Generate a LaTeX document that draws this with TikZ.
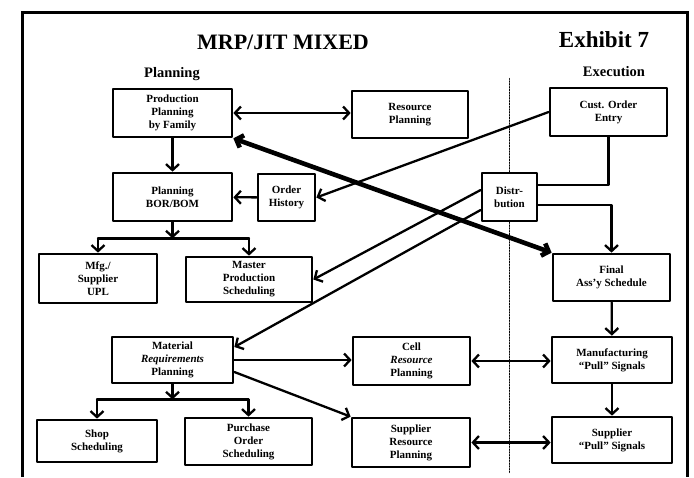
\documentclass[tikz,border=0pt]{standalone}
\usepackage{fontspec}
\setmainfont{Liberation Serif}
\usetikzlibrary{arrows.meta}

\tikzset{
  blk/.style={draw, fill=white, line width=2.7pt, align=center, inner sep=1pt,
    minimum width=119pt, minimum height=48pt,
    font=\fontsize{11}{13}\selectfont\bfseries},
  con/.style={line width=2.3pt},
  heavy/.style={line width=4.6pt},
  divider/.style={line width=1.5pt, dash pattern=on 1pt off 1.8pt},
  heading/.style={font=\fontsize{14.5}{16}\selectfont\bfseries},
}

\begin{document}
\begin{tikzpicture}[x=1pt, y=-1pt, line cap=round, line join=round, >={Straight Barb[length=6pt,width=13pt]}]
  \useasboundingbox (0,0) rectangle (694,477);
  % frame
  \draw [line width=3pt, line join=miter, line cap=butt] (22,477) -- (22,12) -- (687,12) -- (687,477);
  % titles
  \node [font=\fontsize{22}{24}\selectfont\bfseries] (title) at (283,42) {MRP/JIT MIXED};
  \node [font=\fontsize{23}{24}\selectfont\bfseries] (exhibit) at (604,40) {Exhibit 7};
  \node [heading] (planhead) at (172,74) {Planning};
  \node [heading] (exechead) at (614,72) {Execution};
  % planning side
  \node [blk] (ppf) at (172.5,113) {Production\\Planning\\by Family};
  \node [blk, minimum width=116pt, minimum height=47pt] (resplan) at (410,114.5) {Resource\\Planning};
  \node [blk] (bom) at (172.5,197) {Planning\\BOR/BOM};
  \node [blk, minimum width=57pt, minimum height=47pt] (ordhist) at (286.5,197.5) {Order\\History};
  \node [blk, minimum width=118pt, minimum height=49pt] (upl) at (98,278.5) {Mfg./\\Supplier\\UPL};
  \node [blk, minimum width=126pt, minimum height=45pt] (mps) at (249,279.5) {Master\\Production\\Scheduling};
  \node [blk, minimum width=121pt, minimum height=46pt] (mrp) at (172.5,360) {Material\\\textit{Requirements}\\Planning};
  \node [blk, minimum width=120pt, minimum height=42pt] (shop) at (97,441) {Shop\\Scheduling};
  \node [blk, minimum width=127pt, minimum height=47pt] (po) at (248.5,441.5) {Purchase\\Order\\Scheduling};
  \node [blk, minimum width=117pt] (cell) at (411.5,361) {Cell\\\textit{Resource}\\Planning};
  \node [blk, minimum width=118pt, minimum height=49pt] (srp) at (411,442.5) {Supplier\\Resource\\Planning};
  % distribution
  \node [blk, minimum width=55pt] (distr) at (509.5,197) {Distr-\\bution};
  % execution side
  \node [blk, minimum width=117pt] (coe) at (608.5,112) {Cust. Order\\Entry};
  \node [blk, minimum width=117pt, minimum height=47pt] (fas) at (611.5,277.5) {Final\\Ass'y Schedule};
  \node [blk, minimum width=120pt, minimum height=46pt] (mfgpull) at (612,360) {Manufacturing\\``Pull'' Signals};
  \node [blk, minimum width=120pt, minimum height=46pt] (spull) at (612,440) {Supplier\\``Pull'' Signals};
  % divider
  \draw [divider] (distr.north) -- ++(0,-93);
  \draw [divider] (distr.south) -- ++(0,250);
  % connectors
  \draw [con, <->] (ppf.east) -- (ppf.east -| resplan.west);
  \draw [con, ->] (ppf) -- (bom);
  \draw [con, ->] (ordhist) -- (bom);
  \draw [con, ->] (coe.west) -- (ordhist.east);
  \draw [heavy, <->] (ppf.south east) -- (fas.north west);
  \draw [con, ->] (bom.south) -- ++(0,16) coordinate (bomj);
  \draw [con] (upl.north |- bomj) -- (mps.north |- bomj);
  \draw [con, ->] (upl.north |- bomj) -- (upl.north);
  \draw [con, ->] (mps.north |- bomj) -- (mps.north);
  \draw [con, ->] ([yshift=7pt]distr.west) -- (mps.east);
  \draw [con, ->] ([yshift=-13pt]distr.west) -- ([yshift=13pt]mrp.east);
  \draw [con] (coe.south) |- ([yshift=12pt]distr.east);
  \draw [con, ->] ([yshift=-8pt]distr.east) -| (fas.north);
  \draw [con, ->] (fas) -- (mfgpull);
  \draw [con, ->] (mfgpull) -- (spull);
  \draw [con, ->] (mrp.east) -- (mrp.east -| cell.west);
  \draw [con, <->] (cell.east) -- (cell.east -| mfgpull.west);
  \draw [con, ->] ([yshift=-12pt]mrp.east) -- (srp.north west);
  \draw [con, <->] (srp.east) -- (srp.east -| spull.west);
  \draw [con, ->] (mrp.south) -- ++(0,15) coordinate (mrpj);
  \draw [con] (shop.north |- mrpj) -- (po.north |- mrpj);
  \draw [con, ->] (shop.north |- mrpj) -- (shop.north);
  \draw [con, ->] (po.north |- mrpj) -- (po.north);
\end{tikzpicture}
\end{document}
